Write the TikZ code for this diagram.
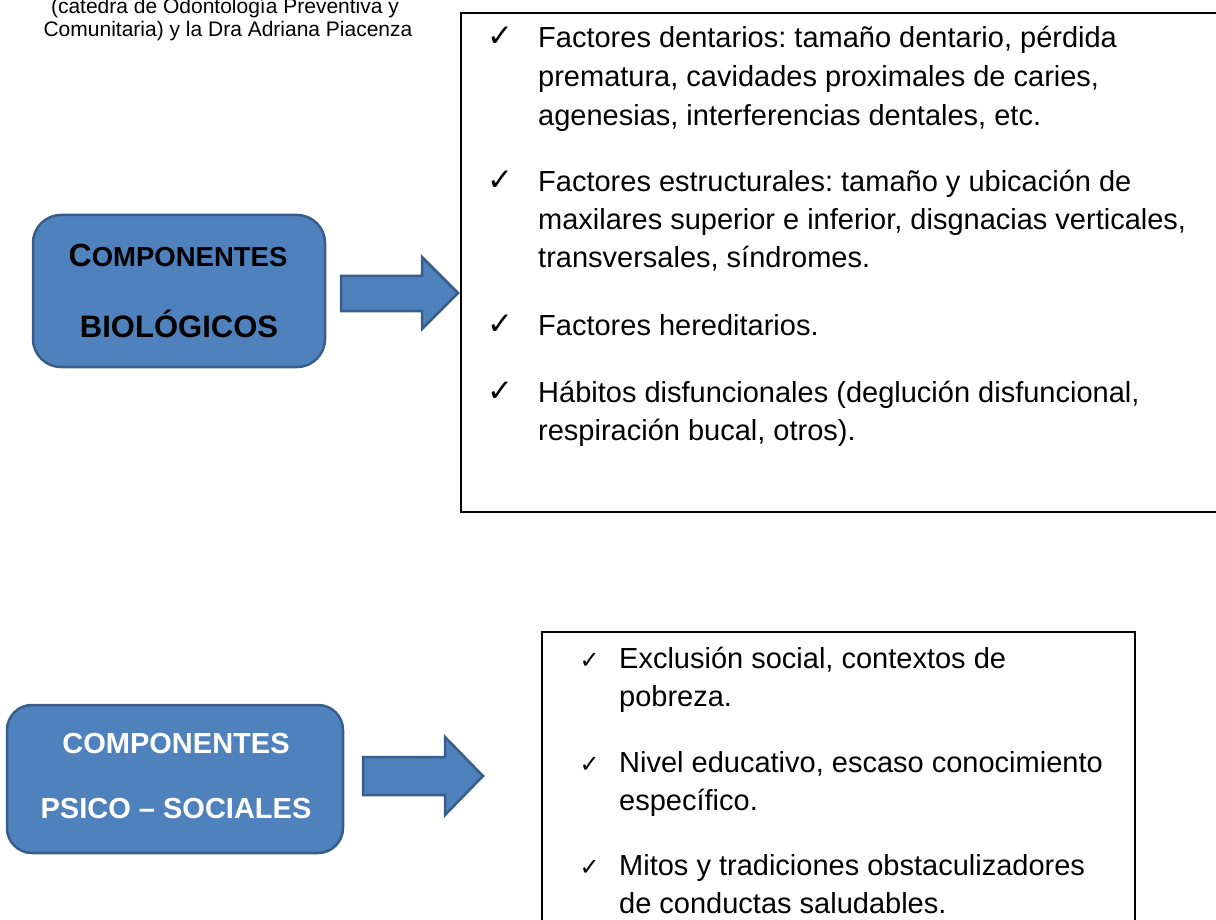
\documentclass[tikz,border=0pt]{standalone}
\usepackage{fontspec}
\setmainfont{Liberation Sans}
\newfontfamily\symfont{DejaVu Sans}
\definecolor{boxblue}{HTML}{4F81BD}
\definecolor{boxedge}{HTML}{385D8A}
\frenchspacing
\begin{document}
\begin{tikzpicture}[x=1pt,y=-1pt,
  comp/.style={draw=boxedge, fill=boxblue, line width=2.5pt, rounded corners=28pt, inner sep=0pt},
  blockarrow/.style={draw=boxedge, fill=boxblue, line width=2.5pt, line join=miter},
  frame/.style={draw=black, line width=1.8pt, inner sep=0pt},
  item/.style={anchor=base west, inner sep=0pt, font=\fontsize{29}{35}\selectfont},
  tick/.style={anchor=base east, inner sep=0pt, font=\symfont\fontsize{31}{36}\selectfont},
  smalltick/.style={anchor=base east, inner sep=0pt, font=\symfont\fontsize{24}{26}\selectfont},
  captxt/.style={anchor=base, inner sep=0pt, font=\fontsize{21}{25}\selectfont},
  bigtitle/.style={anchor=base, inner sep=0pt, font=\bfseries\fontsize{29}{35}\selectfont},
]
\useasboundingbox (0,0) rectangle (1216,920);

% caption
\node[captxt] (cap1) at (225,14) {(catedra de Odontología Preventiva y};
\node[captxt] (cap2) at (228,37) {Comunitaria) y la Dra Adriana Piacenza};

% frames
\node[frame, anchor=north west, minimum width=780pt, minimum height=499pt] (biolist) at (460,12) {};
\node[frame, anchor=north west, minimum width=593pt, minimum height=320pt] (psilist) at (541,631) {};

% blue boxes
\node[comp, minimum width=292pt, minimum height=152pt] (bio) at (179,291) {};
\node[bigtitle, text=black] (bio1) at (178,267) {\fontsize{32}{35}\selectfont C\fontsize{27.5}{35}\selectfont OMPONENTES};
\node[bigtitle, text=black, font=\bfseries\fontsize{31}{35}\selectfont] (bio2) at (179,337) {BIOLÓGICOS};

\node[comp, rounded corners=25pt, minimum width=336pt, minimum height=148pt] (psi) at (175,779) {};
\node[bigtitle, text=white] (psi1) at (176,753) {COMPONENTES};
\node[bigtitle, text=white] (psi2) at (176,818) {PSICO – SOCIALES};

% block arrows
\draw[blockarrow] (341,276) -- (422,276) -- (422,257) -- (458,293) -- (422,329) -- (422,311) -- (341,311) -- cycle;
\draw[blockarrow] (363,757) -- (445,757) -- (445,737) -- (483,776) -- (445,815) -- (445,795) -- (363,795) -- cycle;

% top list
\node[tick] (t1) at (514,47) {✓};
\node[item] (a1) at (538,48) {Factores dentarios: tamaño dentario, pérdida};
\node[item] (a2) at (538,87) {prematura, cavidades proximales de caries,};
\node[item] (a3) at (538,126) {agenesias, interferencias dentales, etc.};
\node[tick] (t2) at (514,191) {✓};
\node[item] (b1) at (538,192) {Factores estructurales: tamaño y ubicación de};
\node[item] (b2) at (538,230) {maxilares superior e inferior, disgnacias verticales,};
\node[item] (b3) at (538,268) {transversales, síndromes.};
\node[tick] (t3) at (514,334) {✓};
\node[item] (c1) at (538,335) {Factores hereditarios.};
\node[tick] (t4) at (514,401) {✓};
\node[item] (d1) at (538,402) {Hábitos disfuncionales (deglución disfuncional,};
\node[item] (d2) at (538,440) {respiración bucal, otros).};

% bottom list
\node[smalltick] (u1) at (600,668) {✓};
\node[item] (e1) at (619,668) {Exclusión social, contextos de};
\node[item] (e2) at (619,706) {pobreza.};
\node[smalltick] (u2) at (600,772) {✓};
\node[item] (f1) at (619,772) {Nivel educativo, escaso conocimiento};
\node[item] (f2) at (619,810) {específico.};
\node[smalltick] (u3) at (600,875) {✓};
\node[item] (g1) at (619,875) {Mitos y tradiciones obstaculizadores};
\node[item] (g2) at (619,913) {de conductas saludables.};
\end{tikzpicture}
\end{document}
